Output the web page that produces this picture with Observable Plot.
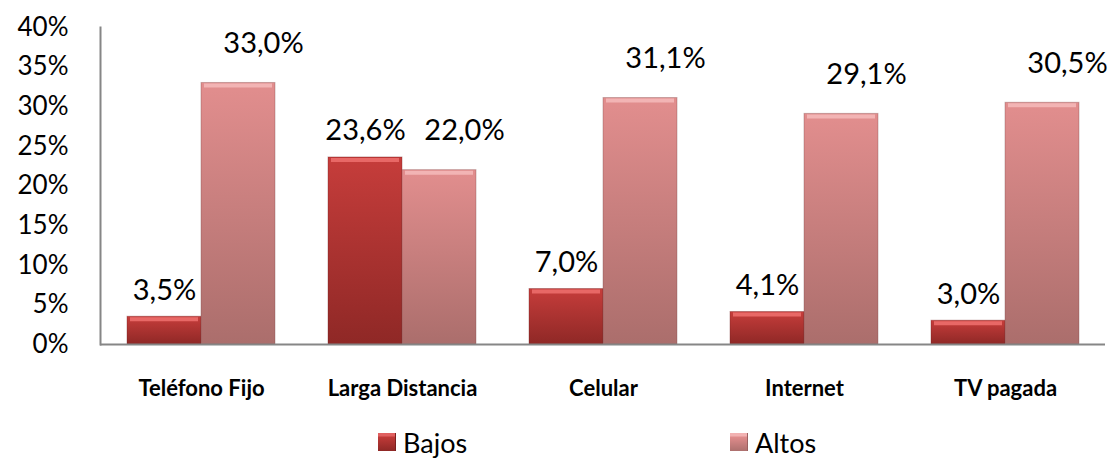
<!DOCTYPE html>
<html>
<head>
<meta charset="utf-8">
<script src="https://cdn.jsdelivr.net/npm/d3@7"></script>
<script src="https://cdn.jsdelivr.net/npm/@observablehq/plot@0.6"></script>
<style>
  html, body { margin: 0; padding: 0; background: #fff; }
  #chart svg { display: block; }
  .legend { position: relative; height: 52px; font-family: Lato, sans-serif; font-size: 27px; color: #000; }
  .item { position: absolute; top: 6px; display: flex; align-items: center; height: 52px; }
  .sw { width: 18px; height: 18px; margin-right: 7px; box-sizing: border-box; }
  .sw.b { background: linear-gradient(#e06060 0, #e06060 3px, #c03a38 4px, #8f2826 100%); border-right: 1px solid #7a2020; }
  .sw.a { background: linear-gradient(#f2b2b2 0, #f2b2b2 3px, #e08c8c 4px, #ad706e 100%); border-right: 1px solid #9a6060; }
</style>
</head>
<body>
<div id="chart"></div>
<div class="legend">
  <div class="item" style="left:378px"><div class="sw b"></div><span id="lb0"></span></div>
  <div class="item" style="left:730px"><div class="sw a"></div><span id="lb1"></span></div>
</div>
<script>
const categories = ["Teléfono Fijo", "Larga Distancia", "Celular", "Internet", "TV pagada"];
const series = ["Bajos", "Altos"];
const bajos = [3.5, 23.6, 7.0, 4.1, 3.0];
const altos = [33.0, 22.0, 31.1, 29.1, 30.5];
const yTicks = [0, 5, 10, 15, 20, 25, 30, 35, 40];

const rowsB = categories.map((c, i) => ({cat: c, serie: series[0], value: bajos[i]}));
const rowsA = categories.map((c, i) => ({cat: c, serie: series[1], value: altos[i]}));
const fmt = v => v.toFixed(1).replace(".", ",") + "%";

const chart = Plot.plot({
  width: 1119,
  height: 410,
  marginLeft: 100,
  marginRight: 14,
  marginTop: 27,
  marginBottom: 66,
  style: {fontFamily: "Lato, sans-serif", color: "#000", background: "#fff"},
  x: {domain: categories, paddingInner: 0.264, paddingOuter: 0.132, label: null},
  y: {domain: [0, 40], label: null},
  marks: [
    Plot.barY(rowsB, {x: "cat", y: "value", fill: "url(#gBajos)", insetRight: 74, stroke: "#6e1c1c", strokeOpacity: 0.35, strokeWidth: 1}),
    Plot.barY(rowsA, {x: "cat", y: "value", fill: "url(#gAltos)", insetLeft: 74, stroke: "#7a4444", strokeOpacity: 0.35, strokeWidth: 1}),
    Plot.tickY(rowsB, {x: "cat", y: "value", stroke: "#e86866", strokeWidth: 4, dy: 2.5, insetRight: 77, insetLeft: 3}),
    Plot.tickY(rowsA, {x: "cat", y: "value", stroke: "#f2b4b4", strokeWidth: 4, dy: 2.5, insetLeft: 77, insetRight: 3}),
    Plot.ruleY([0], {stroke: "#868686", strokeWidth: 2}),
    Plot.frame({anchor: "left", stroke: "#868686", strokeWidth: 2}),
    Plot.axisY({ticks: yTicks, tickSize: 0, tickPadding: 32, tickFormat: d => d + "%", fontSize: 26}),
    Plot.axisX({tickSize: 0, tickPadding: 36, fontSize: 22, fontWeight: "bold"}),
    Plot.text(rowsB, {x: "cat", y: "value", text: d => fmt(d.value), dx: -37, dy: -17, lineAnchor: "bottom", fontSize: 29}),
    Plot.text(rowsA, {x: "cat", y: "value", text: d => fmt(d.value), dx: 62, dy: -30, lineAnchor: "bottom", fontSize: 29})
  ]
});

const defs = d3.select(chart).insert("defs", ":first-child");
const gB = defs.append("linearGradient").attr("id", "gBajos").attr("x1", 0).attr("y1", 0).attr("x2", 0).attr("y2", 1);
gB.append("stop").attr("offset", "0%").attr("stop-color", "#c63d3b");
gB.append("stop").attr("offset", "100%").attr("stop-color", "#8f2826");
const gA = defs.append("linearGradient").attr("id", "gAltos").attr("x1", 0).attr("y1", 0).attr("x2", 0).attr("y2", 1);
gA.append("stop").attr("offset", "0%").attr("stop-color", "#e28e8e");
gA.append("stop").attr("offset", "100%").attr("stop-color", "#ab6e6c");

document.getElementById("chart").appendChild(chart);
document.getElementById("lb0").textContent = series[0];
document.getElementById("lb1").textContent = series[1];
</script>
</body>
</html>
